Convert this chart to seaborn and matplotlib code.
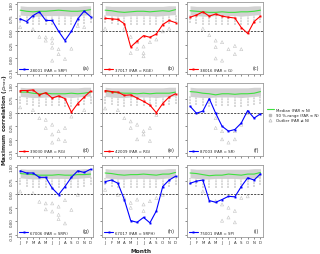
import numpy as np
import pandas as pd
import matplotlib
matplotlib.use("Agg")
import matplotlib.pyplot as plt
import seaborn as sns
from matplotlib.lines import Line2D

sns.set_style("white")
plt.rcParams['font.family'] = ['DejaVu Sans']

# ---- data ----
months = list(range(1, 13))
month_labels = list("JFMAMJJASOND")
panel_ids = list("abcdefghi")

station_names = ["28001 (FAR = SRP)", "37017 (FAR = RGE)", "38016 (FAR = G)",
                 "39030 (FAR = RG)", "42009 (FAR = RG)", "87003 (FAR = SR)",
                 "67006 (FAR = SRPi)", "67017 (FAR = SRPH)", "75001 (FAR = SP)"]
station_colors = ["blue", "red", "red", "red", "red", "blue", "blue", "blue", "blue"]

station_rho = {
    "a": [0.73, 0.68, 0.79, 0.86, 0.70, 0.70, 0.50, 0.33, 0.50, 0.73, 0.875, 0.77],
    "b": [0.74, 0.73, 0.72, 0.64, 0.21, 0.32, 0.42, 0.39, 0.45, 0.625, 0.70, 0.66],
    "c": [0.76, 0.80, 0.86, 0.78, 0.82, 0.78, 0.76, 0.745, 0.57, 0.46, 0.68, 0.78],
    "d": [0.91, 0.91, 0.92, 0.83, 0.87, 0.77, 0.81, 0.76, 0.51, 0.67, 0.79, 0.90],
    "e": [0.91, 0.89, 0.88, 0.82, 0.83, 0.77, 0.71, 0.64, 0.50, 0.67, 0.79, 0.85],
    "f": [0.62, 0.49, 0.53, 0.76, 0.49, 0.25, 0.16, 0.19, 0.31, 0.54, 0.40, 0.48],
    "g": [0.93, 0.89, 0.89, 0.81, 0.81, 0.61, 0.49, 0.64, 0.81, 0.93, 0.90, 0.96],
    "h": [0.73, 0.76, 0.70, 0.40, 0.01, -0.02, 0.07, -0.03, 0.19, 0.64, 0.76, 0.83],
    "i": [0.70, 0.74, 0.76, 0.38, 0.35, 0.40, 0.46, 0.45, 0.64, 0.80, 0.76, 0.875],
}

median_rho = {
    "a": [0.89, 0.87, 0.86, 0.87, 0.87, 0.88, 0.89, 0.88, 0.87, 0.87, 0.88, 0.90],
    "b": [0.89, 0.88, 0.86, 0.85, 0.86, 0.87, 0.87, 0.86, 0.87, 0.88, 0.87, 0.90],
    "c": [0.88, 0.87, 0.86, 0.85, 0.85, 0.86, 0.85, 0.85, 0.86, 0.86, 0.87, 0.89],
    "d": [0.88, 0.88, 0.86, 0.85, 0.86, 0.85, 0.85, 0.85, 0.86, 0.85, 0.86, 0.88],
    "e": [0.90, 0.88, 0.87, 0.86, 0.86, 0.85, 0.86, 0.85, 0.86, 0.86, 0.86, 0.88],
    "f": [0.89, 0.88, 0.86, 0.85, 0.83, 0.85, 0.85, 0.84, 0.85, 0.85, 0.86, 0.89],
    "g": [0.88, 0.87, 0.86, 0.85, 0.85, 0.85, 0.86, 0.85, 0.85, 0.86, 0.86, 0.87],
    "h": [0.89, 0.88, 0.86, 0.85, 0.86, 0.86, 0.87, 0.86, 0.85, 0.87, 0.87, 0.90],
    "i": [0.89, 0.88, 0.86, 0.84, 0.85, 0.85, 0.87, 0.86, 0.85, 0.87, 0.87, 0.90],
}

# 90 %-range: upper band edge, lower band edge and lower end of the vertical stripes
range_hi = [0.97, 0.96, 0.96, 0.96, 0.96, 0.96, 0.96, 0.96, 0.96, 0.96, 0.97, 0.97]
range_lo = [0.80, 0.79, 0.78, 0.78, 0.79, 0.79, 0.79, 0.79, 0.78, 0.79, 0.80, 0.81]
range_bottom = [0.66, 0.64, 0.62, 0.61, 0.62, 0.62, 0.62, 0.61, 0.61, 0.62, 0.64, 0.66]

outliers = {
    "a": [(1, 0.58), (3, 0.54), (4, 0.40), (5, 0.39), (5, 0.33), (6, 0.37), (6, 0.29), (6, 0.20),
          (6, -0.04), (7, 0.17), (7, 0.08), (8, -0.01), (9, 0.18), (10, 0.60), (11, 0.58)],
    "b": [(1, 0.55), (4, 0.55), (5, 0.40), (5, 0.10), (6, 0.30), (6, 0.18), (7, 0.22), (7, 0.04),
          (7, 0.10), (8, 0.30), (9, 0.35), (10, 0.50), (11, 0.55)],
    "c": [(3, 0.55), (4, 0.43), (5, 0.33), (5, 0.21), (5, 0.00), (6, 0.30), (6, -0.04),
          (7, 0.17), (8, 0.23), (8, 0.08), (9, 0.17)],
    "d": [(1, 0.60), (3, 0.55), (4, 0.40), (5, 0.37), (5, 0.22), (6, 0.28), (6, 0.10), (6, -0.05),
          (7, 0.16), (7, 0.01), (8, 0.22), (8, -0.02), (9, 0.43), (11, 0.55)],
    "e": [(1, 0.58), (3, 0.55), (4, 0.40), (5, 0.34), (5, 0.22), (6, 0.28), (6, 0.01), (7, 0.16),
          (7, 0.10), (8, 0.22), (8, -0.02), (9, 0.46)],
    "f": [(5, 0.40), (5, 0.22), (6, 0.16), (6, 0.01), (7, -0.05), (8, 0.16), (8, 0.01), (9, 0.28),
          (10, 0.50)],
    "g": [(1, 0.55), (3, 0.52), (4, 0.36), (5, 0.33), (5, 0.22), (6, 0.33), (6, 0.18), (7, 0.27),
          (7, 0.12), (7, 0.04), (8, 0.39), (8, -0.04), (9, 0.21), (10, 0.49)],
    "h": [(1, 0.58), (3, 0.49), (4, 0.43), (5, 0.34), (5, 0.25), (6, 0.40), (7, 0.31), (7, 0.19),
          (8, 0.37), (9, 0.43), (10, 0.49)],
    "i": [(3, 0.55), (5, 0.37), (6, 0.31), (6, 0.01), (7, 0.25), (7, 0.07), (8, 0.19), (8, -0.02),
          (9, 0.43), (10, 0.46)],
}

median_color = "#3fe03f"
range_color = "#d2d2d2"

fig, axes = plt.subplots(3, 3, figsize=(3.2, 2.55), dpi=100, sharex=True, sharey=True)
fig.subplots_adjust(left=0.053, right=0.822, top=0.988, bottom=0.067, wspace=0.115, hspace=0.13)

for k, ax in enumerate(axes.flat):
    pid = panel_ids[k]

    # 90 %-range band and stripes
    ax.fill_between(months, range_lo, range_hi, color=range_color, lw=0, zorder=1)
    ax.vlines(months, range_bottom, range_lo, color=range_color, lw=1.2,
              linestyles=(0, (1.2, 0.5)), zorder=1)

    # outliers
    odf = pd.DataFrame(outliers[pid], columns=["month", "rho"])
    sns.scatterplot(data=odf, x="month", y="rho", ax=ax, marker="^", s=5,
                    facecolor="none", edgecolor="#c4c4c4", linewidth=0.4, zorder=2)

    ax.axhline(0.5, color="#333333", ls=(0, (2.5, 1.5)), lw=0.6, zorder=2)

    # median of the group
    sns.lineplot(x=months, y=median_rho[pid], ax=ax, color=median_color, lw=0.8, zorder=3)

    # station line
    sns.lineplot(x=months, y=station_rho[pid], ax=ax, color=station_colors[k], lw=0.8,
                 marker="s", markersize=1.4, markeredgewidth=0, zorder=4,
                 label=station_names[k])

    ax.legend(loc="lower left", frameon=False, fontsize=2.8, handlelength=2.2,
              borderaxespad=0.2, handletextpad=0.5)
    ax.text(0.95, 0.05, f"({pid})", transform=ax.transAxes, ha="right", va="bottom",
            fontsize=3.6)

    ax.set_xlim(0.5, 12.4)
    ax.set_ylim(-0.29, 1.04)
    ax.set_xticks(months)
    ax.set_xticklabels(month_labels)
    ax.set_yticks([-0.25, 0.0, 0.25, 0.5, 0.75, 1.0])
    ax.set_yticklabels(["-0.25", "0.00", "0.25", "0.50", "0.75", "1.00"], rotation=90,
                       va="center")
    ax.tick_params(axis="both", labelsize=2.8, length=1.2, width=0.4, pad=1,
                   left=True, bottom=True, colors="#333333")
    ax.set_xlabel("")
    ax.set_ylabel("")
    for sp in ax.spines.values():
        sp.set_color("#999999")
        sp.set_linewidth(0.6)

fig.text(0.015, 0.53, r"Maximum correlation ($\rho_{max}$)", rotation=90, ha="center",
         va="center", fontsize=4.2, fontweight="bold")
fig.text(0.44, 0.012, "Month", ha="center", va="center", fontsize=4.2, fontweight="bold")

handles = [
    Line2D([0], [0], color=median_color, lw=0.8),
    Line2D([0], [0], marker="s", color="none", markerfacecolor="#bbbbbb",
           markeredgecolor="#bbbbbb", markersize=2),
    Line2D([0], [0], marker="^", color="none", markerfacecolor="none",
           markeredgecolor="#bbbbbb", markeredgewidth=0.5, markersize=2.2),
]
fig.legend(handles, ["Median (FAR ≈ N)", "90 %-range (FAR ≈ N)", "Outlier (FAR ≠ N)"],
           loc="center left", bbox_to_anchor=(0.822, 0.545), frameon=False, fontsize=2.8,
           handlelength=2.0, handletextpad=0.5, labelspacing=0.3)

fig.savefig("out.png", dpi=100)
